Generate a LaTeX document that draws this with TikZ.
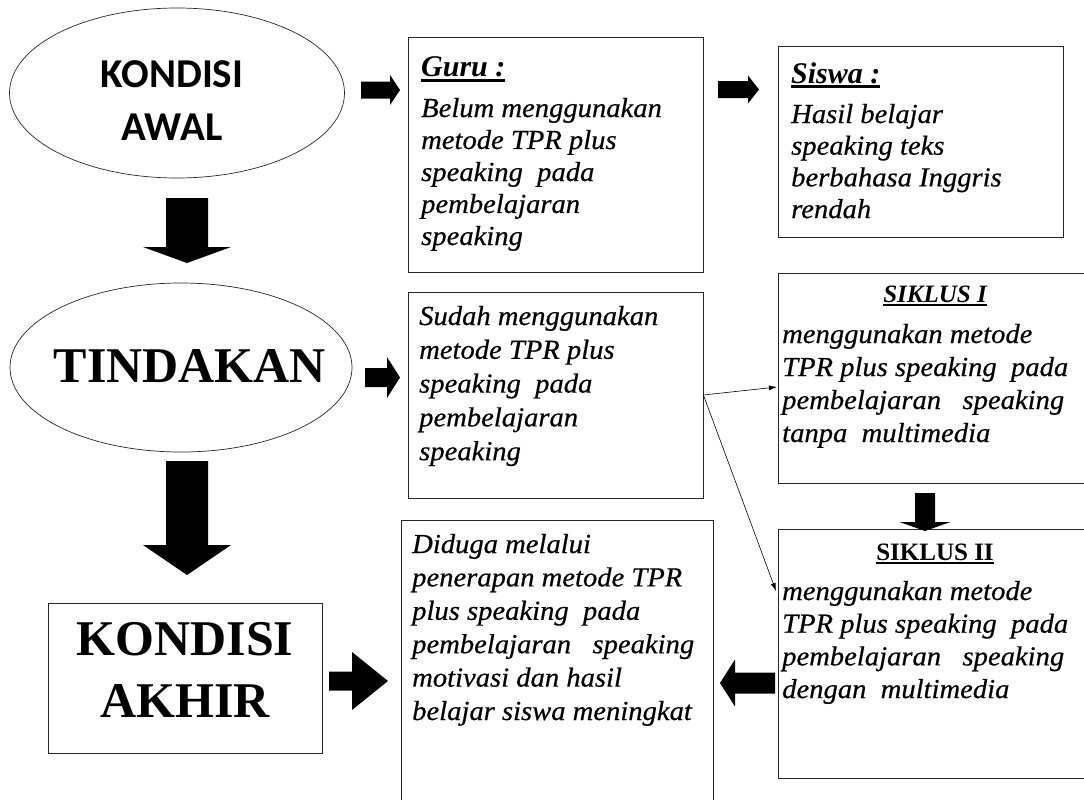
\documentclass[tikz,border=0pt]{standalone}
\usepackage{fontspec}
\setmainfont{Liberation Serif}
\newfontfamily\bodyfont[FakeStretch=1.04,FakeBold=0.5]{Liberation Serif}
\newfontfamily\calib{Carlito}
\usetikzlibrary{shapes.geometric,fit,arrows.meta}
\newcommand\ltxt[2]{\vtop{\baselineskip=#1\relax\lineskiplimit=-100pt\halign{##\hfil\cr#2\crcr}}}
\newcommand\ctxt[2]{\vtop{\baselineskip=#1\relax\lineskiplimit=-100pt\halign{\hfil##\hfil\cr#2\crcr}}}
\newcommand\uln[3]{\setbox0\hbox{#3}\rlap{\rule[-#1]{\wd0}{#2}}\box0}
\newcommand\harrow[6]{\fill (#1,#4-#5) -- (#2,#4-#5) -- (#2,#4-#6) -- (#3,#4) -- (#2,#4+#6) -- (#2,#4+#5) -- (#1,#4+#5) -- cycle;}
\newcommand\varrow[6]{\fill (#1-#5,#2) -- (#1-#5,#3) -- (#1-#6,#3) -- (#1,#4) -- (#1+#6,#3) -- (#1+#5,#3) -- (#1+#5,#2) -- cycle;}
\tikzset{
  box/.style={draw=black!85, line width=0.8pt, inner sep=0pt},
  oval/.style={draw=black!85, line width=0.7pt, ellipse, inner sep=0pt},
  body/.style={inner sep=0pt, font=\bodyfont\itshape\fontsize{27.5}{32}\selectfont},
  head/.style={inner sep=0pt, font=\bfseries\itshape\fontsize{30}{36}\selectfont},
  shead/.style={inner sep=0pt, font=\bfseries\fontsize{25}{30}\selectfont},
  thin/.style={-{Latex[length=8pt,width=5pt]}, line width=0.6pt},
}
\begin{document}
\begin{tikzpicture}[x=1pt,y=-1pt]
\useasboundingbox (0,0) rectangle (1084,800);
\clip (0,0) rectangle (1084,800);

% ovals
\node[oval, minimum width=335pt, minimum height=170pt] (awal) at (177,93) {};
\node[oval, minimum width=342pt, minimum height=169pt] (tindakan) at (181,367.5) {};
\node[anchor=base, inner sep=0pt] (awaltext) at (172,87)
  {\calib\bfseries\fontsize{41}{50}\selectfont\ctxt{53pt}{KONDISI\cr AWAL}};
\node[anchor=base, inner sep=0pt] (tindtext) at (190,382)
  {\bfseries\fontsize{50}{60}\selectfont TINDAKAN};

% boxes
\node[box, fit={(408,37) (703,272)}] (guru) {};
\node[box, fit={(778,46) (1063,237)}] (siswa) {};
\node[box, fit={(408,292) (703,498)}] (sudah) {};
\node[box, fit={(778,273) (1095,483)}] (s1) {};
\node[box, fit={(778,529) (1095,778)}] (s2) {};
\node[box, fit={(401,520) (713,815)}] (diduga) {};
\node[box, fit={(48,603) (322,753)}] (akhir) {};

% texts
\node[anchor=base, inner sep=0pt] (akhirtext) at (185,655)
  {\bfseries\fontsize{50}{60}\selectfont\ctxt{62pt}{KONDISI\cr AKHIR}};

\node[head, anchor=base west] (guruhead) at (421,77) {\uln{5pt}{2.6pt}{Guru :}};
\node[body, anchor=base west] (gurutext) at (421,117)
  {\ltxt{32pt}{Belum menggunakan\cr metode TPR plus\cr speaking\ \ pada\cr pembelajaran\cr speaking}};

\node[head, anchor=base west] (siswahead) at (791,83) {\uln{5pt}{2.6pt}{Siswa :}};
\node[body, anchor=base west] (siswatext) at (791,123)
  {\ltxt{31.7pt}{Hasil belajar\cr speaking teks\cr berbahasa Inggris\cr rendah}};

\node[body, anchor=base west] (sudahtext) at (419,325)
  {\ltxt{33.8pt}{Sudah menggunakan\cr metode TPR plus\cr speaking\ \ pada\cr pembelajaran\cr speaking}};

\node[shead, anchor=base] (s1head) at (935,302) {\itshape\uln{4pt}{2.2pt}{SIKLUS I}};
\node[body, anchor=base west] (s1text) at (782,343)
  {\ltxt{33pt}{menggunakan metode\cr TPR plus speaking\ \ pada\cr pembelajaran\ \ \ speaking\cr tanpa\ \ multimedia}};

\node[shead, anchor=base] (s2head) at (935,560) {\uln{4pt}{2.2pt}{SIKLUS II}};
\node[body, anchor=base west] (s2text) at (782,600)
  {\ltxt{32.7pt}{menggunakan metode\cr TPR plus speaking\ \ pada\cr pembelajaran\ \ \ speaking\cr dengan\ \ multimedia}};

\node[body, anchor=base west] (didugatext) at (412,553)
  {\ltxt{33.4pt}{Diduga melalui\cr penerapan metode TPR\cr plus speaking\ \ pada\cr pembelajaran\ \ \ speaking\cr motivasi dan hasil\cr belajar siswa meningkat}};

% block arrows
\harrow{361}{390}{400}{90}{8.5}{15}
\harrow{718}{748}{759}{89.5}{8.5}{14}
\harrow{365}{387}{400}{377.5}{9.5}{20.5}
\harrow{329}{352}{388}{681}{9.5}{29}
\harrow{775}{735}{720}{683}{10.5}{23.5}
\varrow{187}{198}{247}{263}{21}{44}
\varrow{187}{461}{545}{575}{21}{44}
\varrow{925}{493}{522}{531}{10}{25.5}

% thin connectors
\coordinate (t1) at (777,387);
\coordinate (t2) at (776,591);
\draw[thin] (sudah.east) -- (t1);
\draw[thin] (sudah.east) -- (t2);
\end{tikzpicture}
\end{document}
